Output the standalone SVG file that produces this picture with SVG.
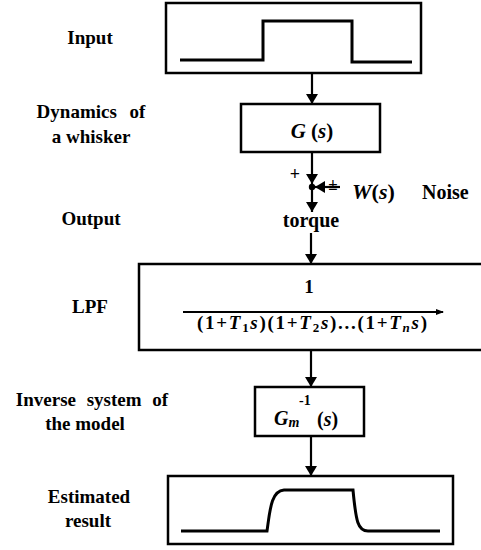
<svg xmlns="http://www.w3.org/2000/svg" width="481" height="550" viewBox="0 0 481 550">
<style>
.box{fill:none;stroke:#000;stroke-width:2.5}
.wave{fill:none;stroke:#000;stroke-width:3;stroke-linejoin:miter}
.ln{fill:none;stroke:#000;stroke-width:2.2}
.lbl{text-anchor:middle}
.it{font-style:italic}
</style>
<defs>
<marker id="ah" viewBox="0 0 10 14" refX="10" refY="7" markerWidth="10" markerHeight="14" markerUnits="userSpaceOnUse" orient="auto">
<path d="M0,1 L10,7 L0,13 Z" fill="#000"/>
</marker>
</defs>
<rect width="481" height="550" fill="#fff"/>

<g font-family="Times New Roman, Liberation Serif, serif" font-weight="bold" font-size="19" fill="#000">
<g id="labels">
<text class="lbl" x="90" y="44">Input</text>
<text class="lbl" x="91" y="118" word-spacing="8">Dynamics of</text>
<text class="lbl" x="91" y="143">a whisker</text>
<text class="lbl" x="91" y="225">Output</text>
<text class="lbl" x="90" y="313">LPF</text>
<text class="lbl" x="92" y="406" word-spacing="6">Inverse system of</text>
<text class="lbl" x="85" y="430">the model</text>
<text class="lbl" x="89" y="503">Estimated</text>
<text class="lbl" x="88" y="527">result</text>
</g>

<g id="input">
<rect class="box" x="166" y="3" width="255" height="70"/>
<path class="wave" d="M180,60 L263,60 L263,21 L352,21 L352,62 L412,62"/>
</g>

<g id="G">
<rect class="box" x="241" y="104" width="139" height="48"/>
<text x="312" y="138" text-anchor="middle" font-size="21"><tspan class="it">G</tspan> (<tspan class="it">s</tspan>)</text>
</g>

<g id="sum">
<circle cx="312" cy="187" r="3.2" fill="#000"/>
<text x="295" y="180" text-anchor="middle" font-size="18">+</text>
<text x="333" y="190" text-anchor="middle" font-size="17">±</text>
</g>

<g id="noise">
<text x="352" y="199" font-size="22"><tspan class="it">W</tspan>(<tspan class="it">s</tspan>)</text>
<text x="422" y="199" font-size="20">Noise</text>
</g>

<g id="torque">
<text class="lbl" x="311" y="227" font-size="20">torque</text>
</g>

<g id="LPF">
<rect class="box" x="139" y="264" width="346" height="86"/>
<text x="309" y="293" text-anchor="middle">1</text>
<path class="ln" d="M183,312 L443,312"/>
<path d="M436,309 L444,312 L436,315 Z" fill="#000"/>
<text x="197" y="329" textLength="230">(1+<tspan class="it">T</tspan><tspan font-size="13" dy="3">1</tspan><tspan class="it" dy="-3">s</tspan>)(1+<tspan class="it">T</tspan><tspan font-size="13" dy="3">2</tspan><tspan class="it" dy="-3">s</tspan>)...(1+<tspan class="it">T</tspan><tspan class="it" font-size="13" dy="3">n</tspan><tspan class="it" dy="-3">s</tspan>)</text>
</g>

<g id="Ginv">
<rect class="box" x="255" y="387" width="109" height="49"/>
<text x="274" y="425" font-size="20"><tspan class="it">G</tspan><tspan class="it" font-size="14" dy="2">m</tspan></text>
<text x="299" y="405" font-size="14">-1</text>
<text x="317" y="426" font-size="20">(<tspan class="it">s</tspan>)</text>
</g>

<g id="estimated">
<rect class="box" x="168" y="476" width="285" height="68"/>
<path class="wave" d="M181,531 L267,531 C270,510 271,491 284,490 L353,490 C356,522 358,531 368,531 L440,531"/>
</g>
</g>

<g id="connectors">
<path class="ln" d="M312,73 L312,104" marker-end="url(#ah)"/>
<path class="ln" d="M312,152 L312,184" marker-end="url(#ah)"/>
<path class="ln" d="M340,187 L315,187" marker-end="url(#ah)"/>
<path class="ln" d="M312,190 L312,212" marker-end="url(#ah)"/>
<path class="ln" d="M311,233 L311,264" marker-end="url(#ah)"/>
<path class="ln" d="M311,350 L311,387" marker-end="url(#ah)"/>
<path class="ln" d="M311,436 L311,476" marker-end="url(#ah)"/>
</g>
</svg>
